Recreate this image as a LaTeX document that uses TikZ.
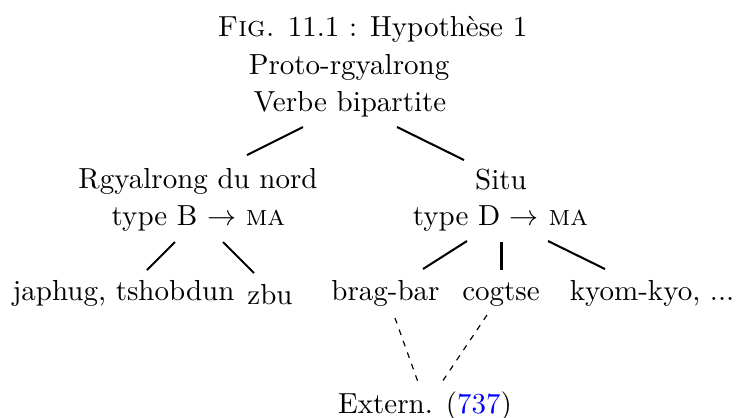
\documentclass[tikz,border=0pt]{standalone}
\usepackage{fontspec}
\begin{document}
\begin{tikzpicture}[x=0.3448pt,y=-0.3448pt,
  lbl/.style={anchor=base,inner sep=0pt,font=\fontsize{10}{12}\selectfont},
  edge/.style={line width=0.7pt},
  dedge/.style={line width=0.4pt,dash pattern=on 2pt off 2.2pt}]
\useasboundingbox (0,0) rectangle (736,417);
\node[lbl] (title) at (372.5,36) {\textsc{Fig.} 11.1 : Hypothèse 1};
\node[lbl] (pr) at (349,74) {Proto-rgyalrong};
\node[lbl] (vb) at (350,111) {Verbe bipartite};
\node[lbl] (rg) at (198,188) {Rgyalrong du nord};
\node[lbl] (tb) at (198.5,225) {type B $\rightarrow$ \textsc{ma}};
\node[lbl] (situ) at (501,189) {Situ};
\node[lbl] (td) at (500.5,225.5) {type D $\rightarrow$ \textsc{ma}};
\node[lbl] (jt) at (123.5,300.5) {japhug, tshobdun};
\node[lbl] (zbu) at (270,304) {zbu};
\node[lbl] (bb) at (385.5,300.5) {brag-bar};
\node[lbl] (cg) at (501,300.5) {cogtse};
\node[lbl] (kk) at (652,300.5) {kyom-kyo, ...};
\node[lbl] (ex) at (425,413) {Extern. ({\color{blue}737})};
% solid edges
\draw[edge] ([shift={(-47,16)}]vb.base) -- ([shift={(49,-33)}]rg.base);
\draw[edge] ([shift={(47,16)}]vb.base) -- ([shift={(-37,-29)}]situ.base);
\draw[edge] ([shift={(-23.5,17)}]tb.base) -- ([shift={(23.5,-30.5)}]jt.base);
\draw[edge] ([shift={(24.5,17)}]tb.base) -- ([shift={(-16,-31)}]zbu.base);
\draw[edge] ([shift={(-33.5,15.5)}]td.base) -- ([shift={(37.5,-31.5)}]bb.base);
\draw[edge] ([shift={(1,16.5)}]td.base) -- ([shift={(0.5,-30.5)}]cg.base);
\draw[edge] ([shift={(47.5,15.5)}]td.base) -- ([shift={(-47,-31.5)}]kk.base);
% dashed edges
\draw[dedge] ([shift={(9.5,17.5)}]bb.base) -- ([shift={(-7,-31)}]ex.base);
\draw[dedge] ([shift={(-14,14.5)}]cg.base) -- ([shift={(17,-31)}]ex.base);
\end{tikzpicture}
\end{document}
